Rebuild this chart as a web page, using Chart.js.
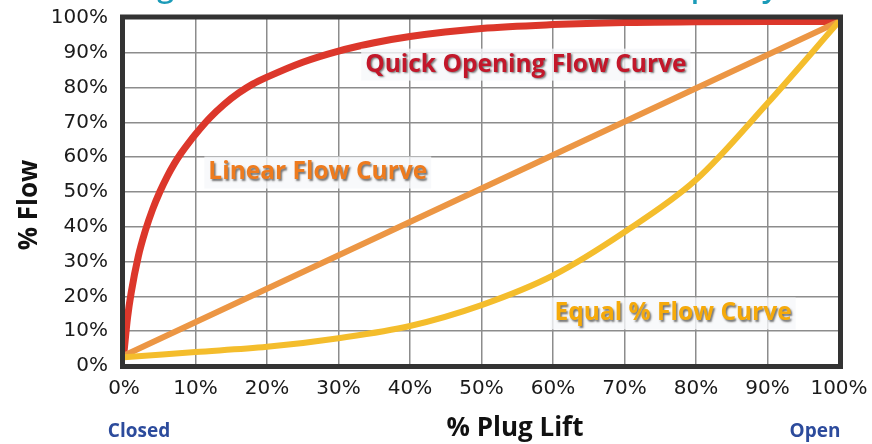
<!DOCTYPE html>
<html>
<head>
<meta charset="utf-8">
<script src="https://cdn.jsdelivr.net/npm/chart.js@4/dist/chart.umd.min.js"></script>
<style>
  html, body { margin: 0; padding: 0; background: #fff; }
  #wrap { width: 872px; height: 444px; }
</style>
</head>
<body>
<div id="wrap"><canvas id="flowChart" width="872" height="444"></canvas></div>
<script>
// % plug lift (x) and % flow (y)
const quickLift = [0, 0.5, 1, 2, 3, 4, 5, 6, 7, 8, 9, 10, 12, 14, 16, 18, 20, 25, 30, 35, 40, 50, 60, 70, 80, 90, 100]
const quickFlow = [4, 14, 21, 31.5, 39, 45, 50, 54.3, 58, 61.2, 64, 66.6, 71.3, 75.2, 78.4, 81, 83, 87.3, 90.5, 92.9, 94.7, 97, 98.1, 98.7, 98.9, 99, 99]

const linearLift = [0, 50, 100]
const linearFlow = [3, 51, 99]

const equalLift = [0, 10, 20, 30, 40, 50, 60, 70, 80, 90, 100]
const equalFlow = [2.5, 4, 5.5, 8, 11.5, 17.5, 26, 38.5, 53.5, 75.5, 99]

const tickValues = [0, 10, 20, 30, 40, 50, 60, 70, 80, 90, 100]

const curveLabels = [
  { text: 'Quick Opening Flow Curve', x: 56.2, y: 86.6, color: '#c3172a' },
  { text: 'Linear Flow Curve', x: 27.1, y: 55.6, color: '#ee7b1e' },
  { text: 'Equal % Flow Curve', x: 76.8, y: 15.1, color: '#f6aa0a' }
]

const toPoints = (xs, ys) => xs.map((x, i) => ({ x: x, y: ys[i] }))

const extras = {
  id: 'extras',
  afterDatasetsDraw(chart) {
    const { ctx, chartArea: a, scales } = chart
    // thick frame
    ctx.save()
    ctx.strokeStyle = '#333'
    ctx.lineWidth = 5
    ctx.strokeRect(a.left - 1.5, a.top - 1, a.right - a.left + 3, a.bottom - a.top + 1.5)
    ctx.restore()

    // curve names
    curveLabels.forEach(l => {
      const px = scales.x.getPixelForValue(l.x)
      const py = scales.y.getPixelForValue(l.y)
      ctx.save()
      ctx.font = 'bold 24.5px "Open Sans"'
      const w = ctx.measureText(l.text).width
      ctx.fillStyle = 'rgba(246,248,250,0.8)'
      ctx.fillRect(px - w / 2 - 4, py - 16, w + 8, 32)
      ctx.shadowColor = 'rgba(60,60,60,0.7)'
      ctx.shadowOffsetX = 1.5
      ctx.shadowOffsetY = 1.5
      ctx.shadowBlur = 2
      ctx.fillStyle = l.color
      ctx.textAlign = 'center'
      ctx.textBaseline = 'middle'
      ctx.fillText(l.text, px, py)
      ctx.restore()
    })
  },
  afterDraw(chart) {
    const ctx = chart.ctx
    ctx.save()
    // title, mostly cut off at the top edge
    ctx.fillStyle = '#1b9bb8'
    ctx.font = '600 30px "Open Sans"'
    ctx.textAlign = 'right'
    ctx.textBaseline = 'alphabetic'
    ctx.fillText('Plug Characteristics: Flow vs. Percent Capacity', 778, -3)

    ctx.fillStyle = '#111'
    ctx.font = 'bold 26px "Open Sans"'
    ctx.textAlign = 'center'
    ctx.textBaseline = 'middle'
    ctx.fillText('% Plug Lift', 515, 429)

    ctx.translate(30, 205)
    ctx.rotate(-Math.PI / 2)
    ctx.fillText('% Flow', 0, 0)
    ctx.restore()

    ctx.save()
    ctx.fillStyle = '#2c4b9c'
    ctx.font = 'bold 19px "Open Sans"'
    ctx.textAlign = 'center'
    ctx.textBaseline = 'middle'
    ctx.fillText('Closed', 139, 432)
    ctx.fillText('Open', 815, 432)
    ctx.restore()
  }
}

const gridStyle = { color: '#8c8c8c', lineWidth: 1.5, drawTicks: false }
const tickFont = { family: '"DejaVu Sans"', size: 20 }

new Chart(document.getElementById('flowChart'), {
  type: 'line',
  data: {
    datasets: [
      {
        label: 'Equal %',
        data: toPoints(equalLift, equalFlow),
        borderColor: '#f4bd2c',
        borderWidth: 6,
        cubicInterpolationMode: 'monotone',
        pointRadius: 0
      },
      {
        label: 'Linear',
        data: toPoints(linearLift, linearFlow),
        borderColor: '#ec9644',
        borderWidth: 6,
        pointRadius: 0
      },
      {
        label: 'Quick Opening',
        data: toPoints(quickLift, quickFlow),
        borderColor: '#dc372b',
        borderWidth: 7,
        cubicInterpolationMode: 'monotone',
        pointRadius: 0
      }
    ]
  },
  options: {
    responsive: false,
    animation: false,
    layout: { padding: { top: 18, right: 33, left: 0, bottom: 0 } },
    plugins: { legend: { display: false }, tooltip: { enabled: false } },
    scales: {
      x: {
        type: 'linear',
        min: 0,
        max: 100,
        grid: gridStyle,
        border: { display: false },
        afterFit: s => { s.height = 78; s.paddingLeft = 0; s.paddingRight = 0 },
        afterBuildTicks: s => { s.ticks = tickValues.map(v => ({ value: v })) },
        ticks: {
          color: '#1a1a1a',
          font: tickFont,
          padding: 11,
          maxRotation: 0,
          callback: v => v + '%'
        }
      },
      y: {
        min: 0,
        max: 100,
        grid: gridStyle,
        border: { display: false },
        afterFit: s => { s.width = 124; s.paddingTop = 0; s.paddingBottom = 0 },
        afterBuildTicks: s => { s.ticks = tickValues.map(v => ({ value: v })) },
        ticks: {
          color: '#1a1a1a',
          font: tickFont,
          padding: 16,
          callback: v => v + '%'
        }
      }
    }
  },
  plugins: [extras]
})
</script>
</body>
</html>
